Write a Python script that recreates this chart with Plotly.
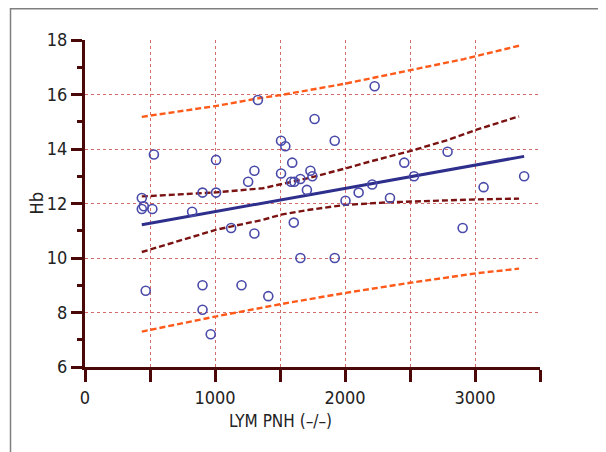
import plotly.graph_objects as go

# Scatter data (LYM PNH vs Hb)
lym = [437, 437, 452, 518, 530, 467, 824, 904, 904, 904, 967, 1008, 1008, 1124, 1204,
       1255, 1303, 1303, 1330, 1410, 1508, 1508, 1541, 1594, 1585, 1610, 1606, 1657,
       1657, 1707, 1734, 1749, 1766, 1921, 1921, 2004, 2105, 2209, 2228, 2346, 2456,
       2531, 2789, 2905, 3066, 3378]
hb = [12.2, 11.8, 11.9, 11.8, 13.8, 8.8, 11.7, 12.4, 9.0, 8.1, 7.2, 13.6, 12.4, 11.1, 9.0,
      12.8, 13.2, 10.9, 15.8, 8.6, 14.3, 13.1, 14.1, 13.5, 12.8, 12.8, 11.3, 12.9,
      10.0, 12.5, 13.2, 13.0, 15.1, 14.3, 10.0, 12.1, 12.4, 12.7, 16.3, 12.2, 13.5,
      13.0, 13.9, 11.1, 12.6, 13.0]

# Regression line
fit_x = [437, 3378]
fit_y = [11.22, 13.73]

# Confidence band
ci_up_x = [437, 1011, 1368, 1508, 1725, 2013, 2200, 2500, 2782, 3013, 3339]
ci_up_y = [12.26, 12.41, 12.56, 12.72, 12.94, 13.3, 13.55, 13.92, 14.32, 14.71, 15.2]
ci_lo_x = [437, 833, 1011, 1368, 1508, 1725, 2004, 2319, 2617, 3004, 3339]
ci_lo_y = [10.22, 10.77, 11.04, 11.4, 11.59, 11.77, 11.95, 12.04, 12.09, 12.15, 12.18]

# Prediction band
pi_up_x = [437, 808, 1011, 1346, 1508, 2004, 2500, 2914, 3339]
pi_up_y = [15.18, 15.43, 15.58, 15.87, 15.98, 16.4, 16.9, 17.3, 17.79]
pi_lo_x = [437, 1011, 1508, 2004, 2500, 3013, 3339]
pi_lo_y = [7.3, 7.86, 8.31, 8.72, 9.09, 9.44, 9.61]

x_title = "LYM PNH (–/–)"
y_title = "Hb"

FONT = "Liberation Sans Narrow, Arial Narrow, DejaVu Sans Condensed, sans-serif"
AX = "#4a0808"
GRID = "rgba(200,70,70,0.8)"
ORANGE = "#ff5a1a"
DRED = "#7a1212"
NAVY = "#2e2e8c"
DASH = "6px,3px"

fig = go.Figure()
for xs, ys in [(pi_up_x, pi_up_y), (pi_lo_x, pi_lo_y)]:
    fig.add_trace(go.Scatter(x=xs, y=ys, mode="lines",
                             line=dict(color=ORANGE, width=2.4, dash=DASH)))
for xs, ys in [(ci_up_x, ci_up_y), (ci_lo_x, ci_lo_y)]:
    fig.add_trace(go.Scatter(x=xs, y=ys, mode="lines",
                             line=dict(color=DRED, width=2.4, dash=DASH)))
fig.add_trace(go.Scatter(x=fit_x, y=fit_y, mode="lines",
                         line=dict(color=NAVY, width=3)))
fig.add_trace(go.Scatter(x=lym, y=hb, mode="markers",
                         marker=dict(symbol="circle-open", size=9, color="#4a4aaa",
                                     line=dict(width=1.6, color="#4a4aaa"))))

# page has an 8px body margin; figure coordinates are page coordinates minus 8
OFF = 8
W, H = 598, 444
L, T = 85 - OFF, 40 - OFF
pw, ph = 455, 327
R = W - L - pw
B = H - T - ph

def px(xp):
    return (xp - OFF - L) / pw

def py(yp):
    return (T + ph - (yp - OFF)) / ph

fig.update_layout(
    width=W, height=H, showlegend=False,
    margin=dict(l=L, r=R, t=T, b=B),
    paper_bgcolor="white", plot_bgcolor="white",
    font=dict(family=FONT, size=18, color="#222222"),
    xaxis=dict(range=[0, 3500], dtick=1000, tick0=0, showline=True, linecolor=AX,
               linewidth=3, ticks="outside", ticklen=12, tickwidth=3, tickcolor=AX,
               showgrid=True, gridcolor=GRID, griddash="dot", gridwidth=1,
               zeroline=False, tickfont=dict(size=18),
               minor=dict(dtick=500, tick0=0, ticks="outside", ticklen=12, tickwidth=3,
                          tickcolor=AX, showgrid=True, gridcolor=GRID, griddash="dot",
                          gridwidth=1)),
    yaxis=dict(range=[6, 18], dtick=2, tick0=6, showline=True, linecolor=AX,
               linewidth=3, ticks="outside", ticklen=11, tickwidth=3, tickcolor=AX,
               showgrid=True, gridcolor=GRID, griddash="dot", gridwidth=1,
               zeroline=False, tickfont=dict(size=18),
               minor=dict(dtick=1, tick0=6, ticks="outside", ticklen=5, tickwidth=3,
                          tickcolor=AX, showgrid=False)),
    annotations=[
        dict(text=x_title, xref="paper", yref="paper", x=px(280), y=py(421),
             xanchor="center", yanchor="middle", showarrow=False, font=dict(size=17)),
        dict(text=y_title, xref="paper", yref="paper", x=px(36), y=0.5,
             xanchor="center", yanchor="middle", textangle=-90,
             showarrow=False, font=dict(size=18)),
    ],
    shapes=[
        dict(type="line", xref="paper", yref="paper",
             x0=px(10), x1=px(620), y0=py(8.8), y1=py(8.8),
             line=dict(color="#808080", width=1.5)),
        dict(type="line", xref="paper", yref="paper",
             x0=px(10.5), x1=px(10.5), y0=py(8), y1=py(470),
             line=dict(color="#808080", width=1.5)),
    ],
)

fig.write_html("out.html")
